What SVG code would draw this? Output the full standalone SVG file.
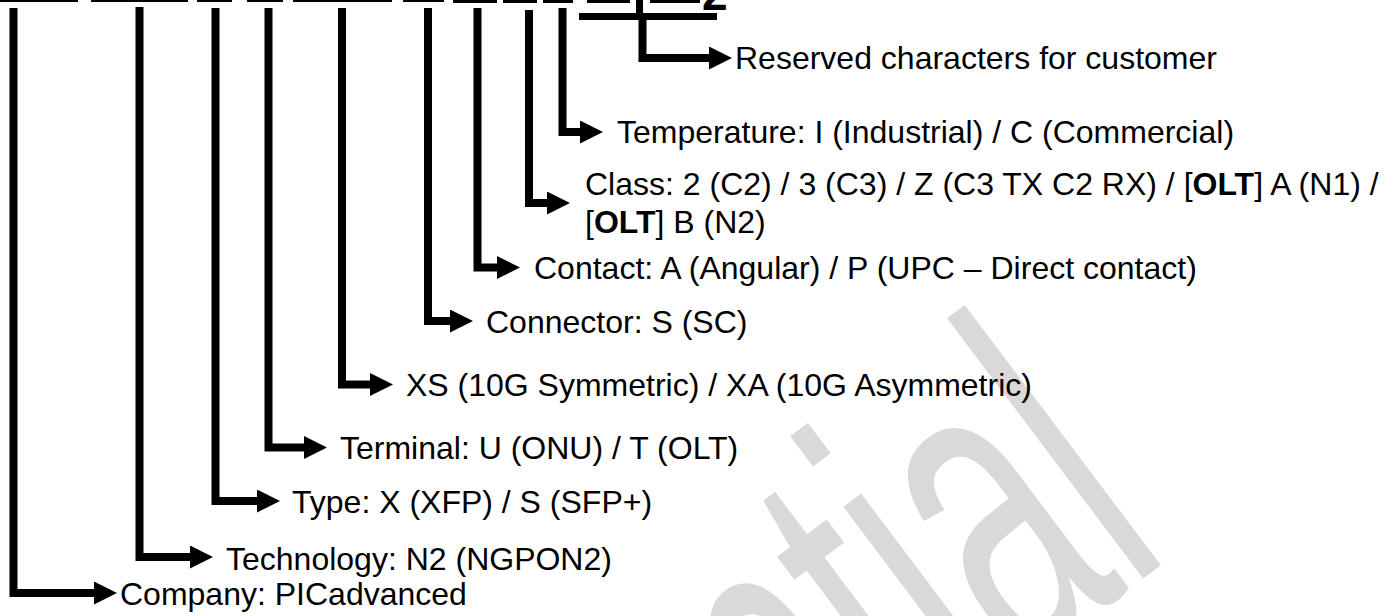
<svg xmlns="http://www.w3.org/2000/svg" width="1396" height="616" viewBox="0 0 1396 616">
<style>
.t{font-family:"Liberation Sans",Arial,sans-serif;font-size:32px;fill:#000}
.c{fill:none;stroke:#000;stroke-width:8;stroke-linejoin:miter}
.wm{font-family:"Liberation Sans",Arial,sans-serif;font-size:450px;fill:#d9d9d9}
</style>
<defs>
<marker id="ah" markerUnits="userSpaceOnUse" markerWidth="24" markerHeight="24" refX="2" refY="11.5" orient="auto">
<path d="M0,0 L23,11.5 L0,23 Z" fill="#000"/>
</marker>
</defs>
<rect width="1396" height="616" fill="#fff"/>
<g id="watermark" transform="translate(1152,572) rotate(-37) scale(0.56,1)">
<text class="wm" x="50" y="0" text-anchor="end">Confidential</text>
</g>
<g id="header">
<rect x="0" y="0" width="78" height="2"/>
<rect x="91" y="0" width="97" height="2"/>
<rect x="197" y="0" width="35" height="2"/>
<rect x="247" y="0" width="36" height="2"/>
<rect x="293" y="0" width="99" height="2"/>
<rect x="403" y="0" width="41" height="2"/>
<rect x="453" y="0" width="44" height="3"/>
<rect x="503" y="0" width="34" height="3"/>
<rect x="543" y="0" width="30" height="3"/>
<rect x="587" y="0" width="43" height="3"/>
<rect x="650" y="0" width="50" height="3"/>
<rect x="636" y="0" width="7" height="14"/>
<rect x="579" y="13" width="138" height="7"/>
<text x="702" y="10" style="font-family:'Liberation Sans',Arial,sans-serif;font-size:46px;font-weight:bold">2</text>
</g>
<g id="connectors">
<path class="c" d="M13.5,8 V593 H96" marker-end="url(#ah)"/>
<path class="c" d="M139.5,7 V557 H192" marker-end="url(#ah)"/>
<path class="c" d="M215.5,8 V501 H259" marker-end="url(#ah)"/>
<path class="c" d="M268.5,8 V447.5 H306" marker-end="url(#ah)"/>
<path class="c" d="M342,8 V384.5 H372" marker-end="url(#ah)"/>
<path class="c" d="M428,8 V321 H452" marker-end="url(#ah)"/>
<path class="c" d="M477.5,8 V267.5 H499" marker-end="url(#ah)"/>
<path class="c" d="M529,10 V203 H549" marker-end="url(#ah)"/>
<path class="c" d="M562.5,8 V132 H582" marker-end="url(#ah)"/>
<path class="c" d="M642.5,20 V58 H711" marker-end="url(#ah)"/>
</g>
<g id="company"><text class="t" x="120" y="605">Company: PICadvanced</text></g>
<g id="technology"><text class="t" x="226" y="570">Technology: N2 (NGPON2)</text></g>
<g id="type"><text class="t" x="292" y="513">Type: X (XFP) / S (SFP+)</text></g>
<g id="terminal"><text class="t" x="340" y="459">Terminal: U (ONU) / T (OLT)</text></g>
<g id="rate"><text class="t" x="406" y="396">XS (10G Symmetric) / XA (10G Asymmetric)</text></g>
<g id="connector"><text class="t" x="486" y="333">Connector: S (SC)</text></g>
<g id="contact"><text class="t" x="534" y="279">Contact: A (Angular) / P (UPC – Direct contact)</text></g>
<g id="class">
<text class="t" x="585" y="195">Class: 2 (C2) / 3 (C3) / Z (C3 TX C2 RX) / [<tspan font-weight="bold">OLT</tspan>] A (N1) /</text>
<text class="t" x="585" y="233">[<tspan font-weight="bold">OLT</tspan>] B (N2)</text>
</g>
<g id="temperature"><text class="t" x="617" y="143">Temperature: I (Industrial) / C (Commercial)</text></g>
<g id="reserved"><text class="t" x="735" y="69">Reserved characters for customer</text></g>
</svg>
